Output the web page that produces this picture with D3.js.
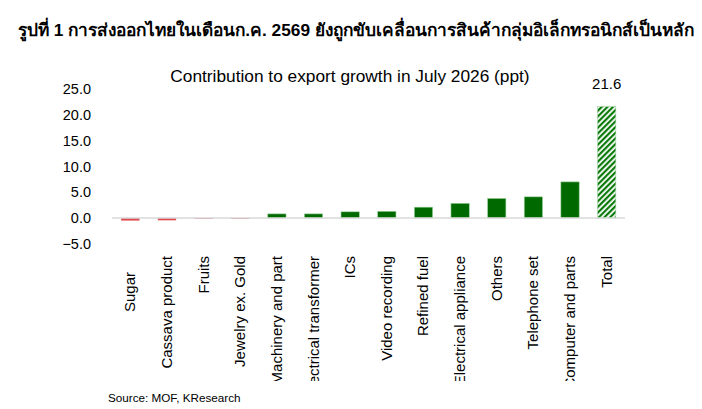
<!DOCTYPE html>
<html>
<head>
<meta charset="utf-8">
<script src="https://cdn.jsdelivr.net/npm/d3@7"></script>
<style>
  body { margin: 0; background: #fff; }
  svg { font-family: "Liberation Sans", Arial, sans-serif; }
</style>
</head>
<body>
<svg id="chart" width="702" height="409"></svg>
<script>
// Chart data
var categories = ["Sugar", "Cassava product", "Fruits", "Jewelry ex. Gold", "Machinery and part",
  "Electrical transformer", "ICs", "Video recording", "Refined fuel", "Electrical appliance",
  "Others", "Telephone set", "Computer and parts", "Total"];
var values = [-0.5, -0.45, -0.15, -0.15, 0.8, 0.8, 1.2, 1.3, 2.1, 2.85, 3.8, 4.1, 7.0, 21.6];
var yTicks = [-5, 0, 5, 10, 15, 20, 25];

var svg = d3.select("#chart");

// Hatch pattern for the total bar
var defs = svg.append("defs");
var pat = defs.append("pattern")
    .attr("id", "hatch")
    .attr("patternUnits", "userSpaceOnUse")
    .attr("width", 4)
    .attr("height", 4)
    .attr("patternTransform", "rotate(45)");
pat.append("rect").attr("width", 4).attr("height", 4).attr("fill", "#ffffff");
pat.append("rect").attr("width", 2.2).attr("height", 4).attr("fill", "#0a7a0a");

defs.append("clipPath").attr("id", "labelClip")
  .append("rect").attr("x", 100).attr("y", 240).attr("width", 540).attr("height", 141);

// Thai heading
svg.append("text")
    .attr("x", 18)
    .attr("y", 36)
    .attr("font-size", 17.3)
    .attr("font-weight", "bold")
    .attr("fill", "#000")
    .text("รูปที่ 1 การส่งออกไทยในเดือนก.ค. 2569 ยังถูกขับเคลื่อนการสินค้ากลุ่มอิเล็กทรอนิกส์เป็นหลัก");

// Chart title
svg.append("text")
    .attr("x", 350)
    .attr("y", 82)
    .attr("text-anchor", "middle")
    .attr("font-size", 17.3)
    .text("Contribution to export growth in July 2026 (ppt)");

// Scales
var xScale = d3.scaleBand()
    .domain(categories)
    .range([112, 625])
    .paddingInner(0.5)
    .paddingOuter(0.25);

var yScale = d3.scaleLinear()
    .domain([-5, 25])
    .range([243.8, 89]);

// Y axis labels only
var yAxis = d3.axisLeft(yScale)
    .tickValues(yTicks)
    .tickFormat(d3.format(".1f"))
    .tickSize(0)
    .tickPadding(0);

var yG = svg.append("g")
    .attr("transform", "translate(91,0)")
    .call(yAxis);
yG.select(".domain").remove();
yG.selectAll("text")
    .attr("font-size", 14.5)
    .attr("font-family", "Liberation Sans, Arial, sans-serif")
    .attr("fill", "#000");

// Bars
svg.selectAll("rect.bar")
    .data(values)
    .enter()
    .append("rect")
    .attr("class", "bar")
    .attr("x", function (d, i) { return xScale(categories[i]); })
    .attr("y", function (d) { return yScale(Math.max(0, d)); })
    .attr("width", xScale.bandwidth())
    .attr("height", function (d) { return Math.abs(yScale(d) - yScale(0)); })
    .attr("fill", function (d, i) {
        if (categories[i] === "Total") return "url(#hatch)";
        return d < 0 ? "#e04a4f" : "#006a00";
    })
    .attr("stroke", function (d) { return d < 0 ? "none" : "#9fd49f"; })
    .attr("stroke-width", 0.6);

// Zero line
svg.append("line")
    .attr("x1", 112)
    .attr("x2", 625)
    .attr("y1", yScale(0))
    .attr("y2", yScale(0))
    .attr("stroke", "#d9d9d9")
    .attr("stroke-width", 1.5);

// Total value label
svg.append("text")
    .attr("x", xScale("Total") + xScale.bandwidth() / 2)
    .attr("y", yScale(values[values.length - 1]) - 18)
    .attr("text-anchor", "middle")
    .attr("font-size", 15)
    .text(d3.format(".1f")(values[values.length - 1]));

// Category labels (rotated, clipped at bottom as in the original)
var labels = svg.append("g").attr("clip-path", "url(#labelClip)");
labels.selectAll("text")
    .data(categories)
    .enter()
    .append("text")
    .attr("transform", function (d) {
        var cx = xScale(d) + xScale.bandwidth() / 2 + 5;
        var top = d === "Sugar" ? 272 : 256;
        return "translate(" + cx + "," + top + ") rotate(-90)";
    })
    .attr("text-anchor", "end")
    .attr("font-size", 15)
    .text(function (d) { return d; });

// Source
svg.append("text")
    .attr("x", 108)
    .attr("y", 402)
    .attr("font-size", 11.7)
    .text("Source: MOF, KResearch");
</script>
</body>
</html>
